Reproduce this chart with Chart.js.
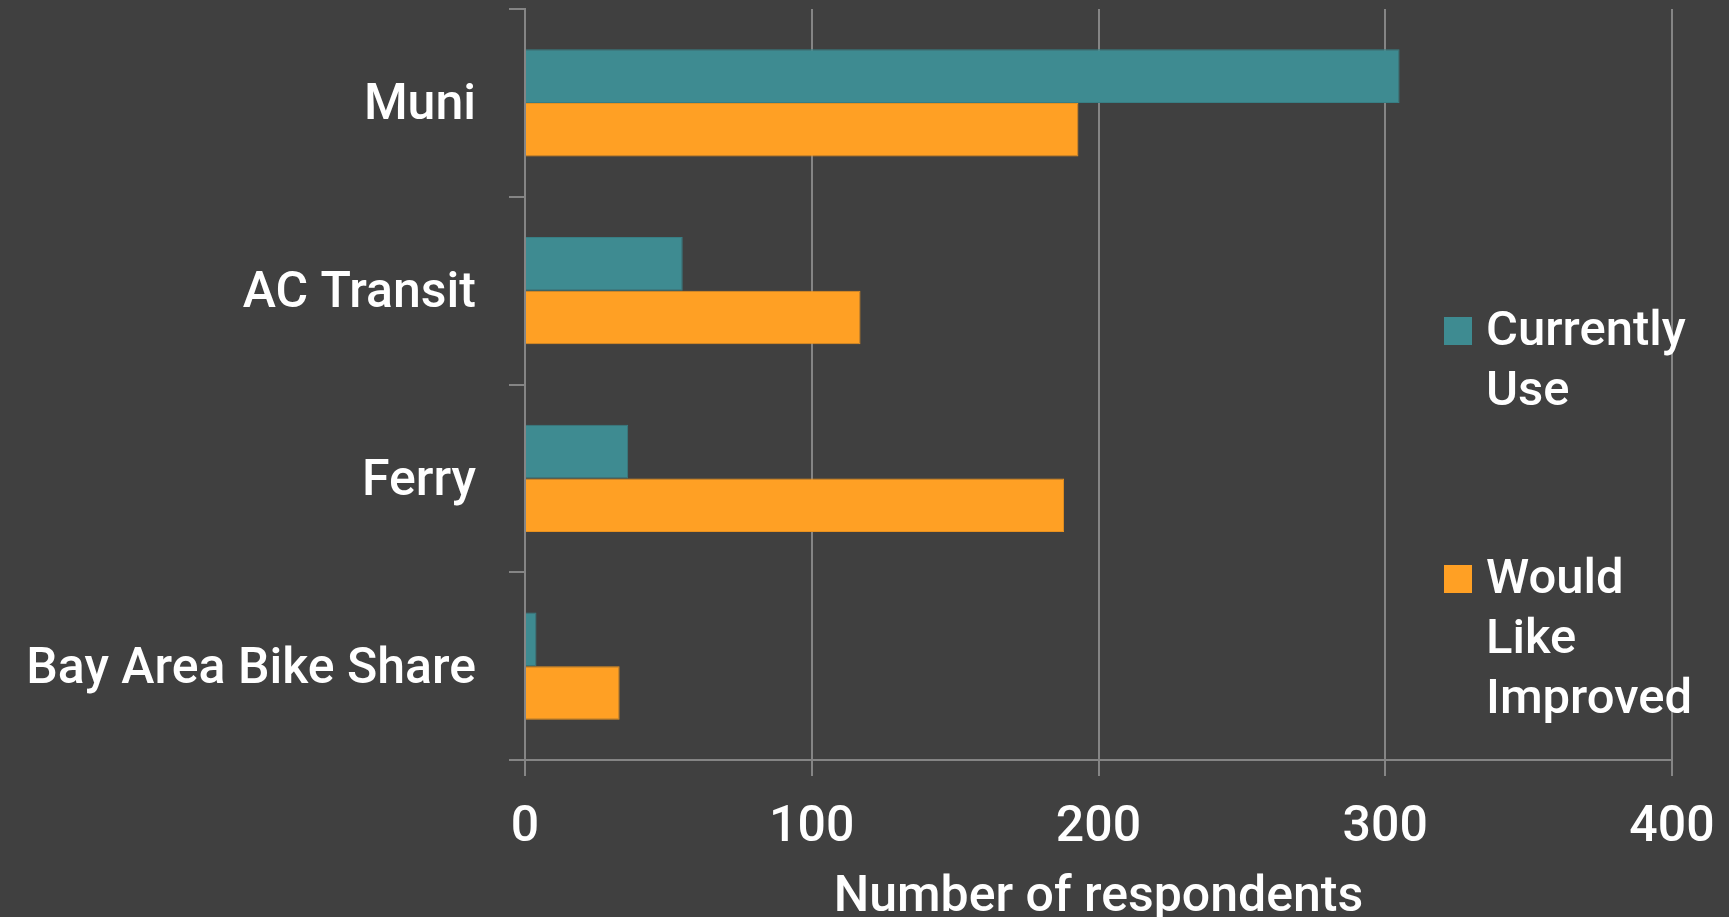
<!DOCTYPE html>
<html>
<head>
<meta charset="utf-8">
<script src="https://cdn.jsdelivr.net/npm/chart.js@4.4.0/dist/chart.umd.min.js"></script>
<style>
    html, body { margin: 0; padding: 0; background: #404040; }
    #wrap { width: 1729px; height: 917px; position: relative; }
</style>
</head>
<body>
<div id="wrap"><canvas id="grafikTransit"></canvas></div>
<script>
// Data dibaca dari gambar referensi
const categories = ['Muni', 'AC Transit', 'Ferry', 'Bay Area Bike Share'];
const currentlyUse = [305, 55, 36, 4];
const wouldLikeImproved = [193, 117, 188, 33];
const seriesLabels = ['Currently Use', 'Would Like Improved'];
const xTickValues = [0, 100, 200, 300, 400];
const xAxisTitle = 'Number of respondents';

const FONT = "'Roboto', 'Liberation Sans', sans-serif";
const GRID = '#858585';

// Legend manual: tiap kata di baris sendiri, kotak warna sejajar baris pertama
const sideLegend = {
    id: 'sideLegend',
    afterDraw(chart) {
        const ctx = chart.ctx;
        const boxX = 1444, textX = 1486, box = 28, lineH = 60;
        const firstLines = [333, 581];
        ctx.save();
        ctx.font = '500 49px ' + FONT;
        ctx.textBaseline = 'middle';
        ctx.textAlign = 'left';
        chart.data.datasets.forEach((ds, i) => {
            const y0 = firstLines[i];
            ctx.fillStyle = ds.backgroundColor;
            ctx.fillRect(boxX, y0 - box / 2 - 2, box, box);
            ctx.fillStyle = '#ffffff';
            ds.label.split(' ').forEach((word, j) => {
                ctx.fillText(word, textX, y0 + j * lineH);
            });
        });
        ctx.restore();
    }
};

new Chart(document.getElementById('grafikTransit'), {
    type: 'bar',
    data: {
        labels: categories,
        datasets: [
            {
                label: seriesLabels[0],
                data: currentlyUse,
                backgroundColor: '#3e8b91',
                borderColor: '#387e84',
                borderWidth: 1,
                barPercentage: 1.0,
                categoryPercentage: 0.57
            },
            {
                label: seriesLabels[1],
                data: wouldLikeImproved,
                backgroundColor: '#ffa024',
                borderColor: '#e8911f',
                borderWidth: 1,
                barPercentage: 1.0,
                categoryPercentage: 0.57
            }
        ]
    },
    options: {
        indexAxis: 'y',
        responsive: true,
        maintainAspectRatio: false,
        animation: false,
        layout: { padding: { top: 9, right: 57, left: 0, bottom: 0 } },
        plugins: {
            legend: { display: false },
            tooltip: { enabled: false }
        },
        scales: {
            x: {
                min: 0,
                max: 400,
                afterBuildTicks(scale) {
                    scale.ticks = xTickValues.map(v => ({ value: v }));
                },
                afterFit(scale) {
                    scale.height = 157;
                    scale.paddingLeft = 0;
                    scale.paddingRight = 0;
                },
                grid: {
                    color: GRID,
                    lineWidth: 2,
                    tickLength: 16
                },
                border: { color: GRID, width: 2 },
                ticks: {
                    color: '#ffffff',
                    padding: 22,
                    maxRotation: 0,
                    font: { family: FONT, size: 50, weight: '500' }
                },
                title: {
                    display: true,
                    text: xAxisTitle,
                    color: '#ffffff',
                    padding: 0,
                    font: { family: FONT, size: 50, weight: '500', lineHeight: 0.76 }
                }
            },
            y: {
                offset: true,
                afterFit(scale) {
                    scale.width = 525;
                    scale.paddingTop = 0;
                    scale.paddingBottom = 0;
                },
                grid: {
                    offset: true,
                    drawOnChartArea: false,
                    color: GRID,
                    lineWidth: 2,
                    tickLength: 16
                },
                border: { color: GRID, width: 2 },
                ticks: {
                    color: '#ffffff',
                    padding: 33,
                    labelOffset: 4,
                    font: { family: FONT, size: 50, weight: '500' }
                }
            }
        }
    },
    plugins: [sideLegend]
});
</script>
</body>
</html>
